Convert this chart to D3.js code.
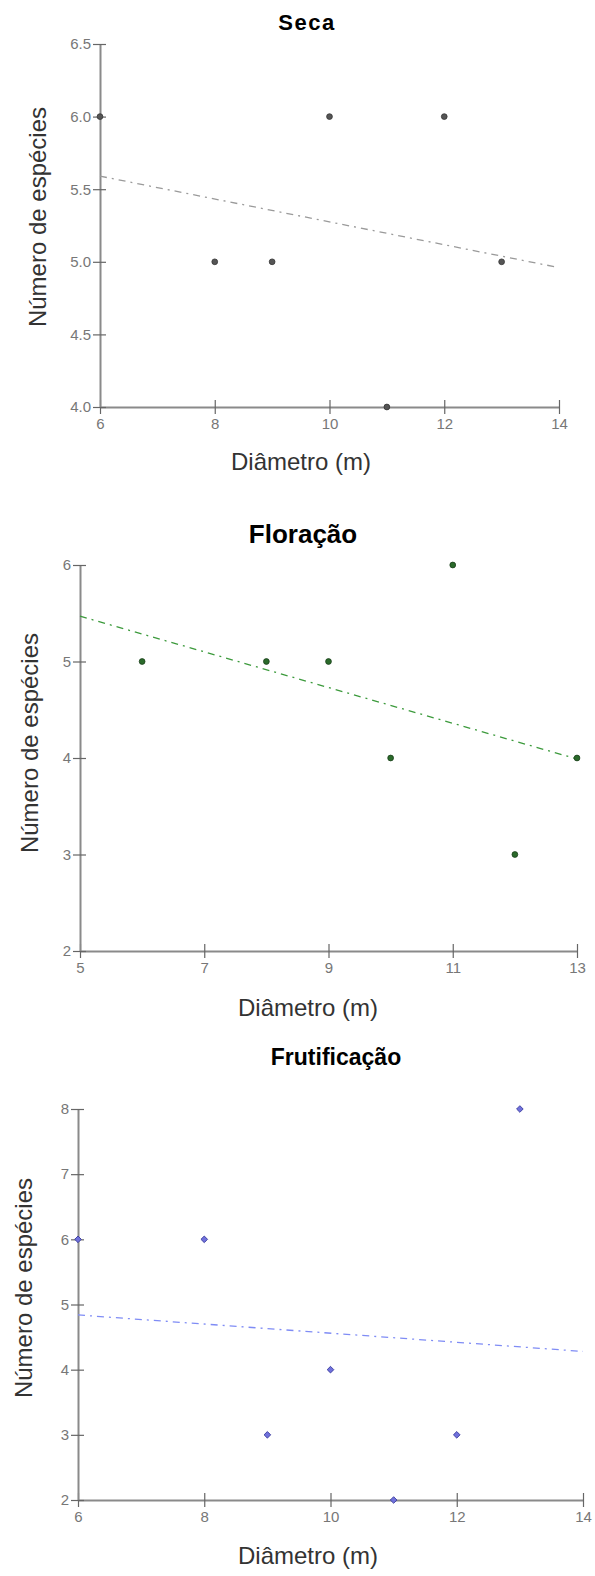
<!DOCTYPE html>
<html>
<head>
<meta charset="utf-8">
<script src="https://cdn.jsdelivr.net/npm/d3@7"></script>
<style>
  body { margin: 0; background: #fff; }
  svg { display: block; }
  .tick text { font-family: "Liberation Sans", Arial, sans-serif; fill: #777; }
</style>
</head>
<body>
<svg id="chart"></svg>
<script>
// data
const diametro = [6, 8, 9, 10, 11, 12, 13];
const secaEspecies = [6, 5, 5, 6, 4, 6, 5];
const floracaoEspecies = [5, 5, 5, 4, 6, 3, 4];
const frutificacaoEspecies = [6, 6, 3, 4, 2, 3, 8];

// trend line ends (value at left and right edge of x axis)
const secaTrend = [5.59, 4.96];
const floracaoTrend = [5.47, 3.99];
const frutificacaoTrend = [4.84, 4.28];

const secaXTicks = [6, 8, 10, 12, 14];
const secaYTicks = [4.0, 4.5, 5.0, 5.5, 6.0, 6.5];
const floracaoXTicks = [5, 7, 9, 11, 13];
const floracaoYTicks = [2, 3, 4, 5, 6];
const frutificacaoXTicks = [6, 8, 10, 12, 14];
const frutificacaoYTicks = [2, 3, 4, 5, 6, 7, 8];

const titles = ['Seca', 'Floração', 'Frutificação'];
const xLabel = 'Diâmetro (m)';
const yLabel = 'Número de espécies';

const width = 595, height = 1576;
const font = '"Liberation Sans", Arial, sans-serif';
const svg = d3.select('#chart').attr('width', width).attr('height', height);

const panels = [
  {
    title: titles[0], y: secaEspecies, trend: secaTrend,
    xTicks: secaXTicks, yTicks: secaYTicks, yFmt: d3.format('.1f'),
    xRange: [100, 559], yRange: [407, 44],
    titleX: 307, titleY: 22, titleSize: 22, titleSpacing: 1.5,
    xLabelX: 301, xLabelY: 462, yLabelX: 38, yLabelY: 217,
    line: '#9a9a9a', fill: '#555', stroke: '#333', marker: 'circle'
  },
  {
    title: titles[1], y: floracaoEspecies, trend: floracaoTrend,
    xTicks: floracaoXTicks, yTicks: floracaoYTicks, yFmt: d3.format('d'),
    xRange: [80, 577], yRange: [951, 565],
    titleX: 303, titleY: 534, titleSize: 26, titleSpacing: 0,
    xLabelX: 308, xLabelY: 1008, yLabelX: 30, yLabelY: 743,
    line: '#3c9a3c', fill: '#2a6a2a', stroke: '#1a3f1a', marker: 'circle'
  },
  {
    title: titles[2], y: frutificacaoEspecies, trend: frutificacaoTrend,
    xTicks: frutificacaoXTicks, yTicks: frutificacaoYTicks, yFmt: d3.format('d'),
    xRange: [78, 583], yRange: [1500, 1109],
    titleX: 336, titleY: 1057, titleSize: 23, titleSpacing: 0,
    xLabelX: 308, xLabelY: 1556, yLabelX: 24, yLabelY: 1288,
    line: '#7f8cf5', fill: '#7071dc', stroke: '#34359a', marker: 'diamond'
  }
];

panels.forEach(p => {
  const x = d3.scaleLinear()
    .domain(d3.extent(p.xTicks))
    .range(p.xRange);
  const y = d3.scaleLinear()
    .domain(d3.extent(p.yTicks))
    .range(p.yRange);

  const g = svg.append('g');

  // axes
  const xAxis = d3.axisBottom(x).tickValues(p.xTicks).tickSizeInner(7).tickSizeOuter(0).tickPadding(4);
  const yAxis = d3.axisLeft(y).tickValues(p.yTicks).tickFormat(p.yFmt).tickSizeInner(7).tickSizeOuter(0).tickPadding(2);

  const gx = g.append('g')
    .attr('transform', `translate(0, ${p.yRange[0]})`)
    .call(xAxis);
  const gy = g.append('g')
    .attr('transform', `translate(${p.xRange[0]}, 0)`)
    .call(yAxis);

  [gx, gy].forEach(a => {
    a.select('.domain').attr('stroke', '#8a8a8a').attr('stroke-width', 2);
    a.selectAll('.tick line').attr('stroke', '#666').attr('stroke-width', 1.2);
    a.selectAll('.tick text').attr('font-size', 15);
  });
  gx.selectAll('.tick line').attr('y1', -7);
  gy.selectAll('.tick line').attr('x1', 6);

  // trend line
  const ends = d3.extent(p.xTicks);
  g.append('path')
    .datum(ends.map((d, i) => [d, p.trend[i]]))
    .attr('d', d3.line().x(d => x(d[0])).y(d => y(d[1])))
    .attr('fill', 'none')
    .attr('stroke', p.line)
    .attr('stroke-width', 1.3)
    .attr('stroke-dasharray', '7,5,2,5');

  // points
  const sym = p.marker === 'diamond'
    ? d3.symbol().type(d3.symbolSquare).size(22)
    : d3.symbol().type(d3.symbolCircle).size(26);
  g.selectAll('.pt')
    .data(diametro.map((d, i) => [d, p.y[i]]))
    .enter()
    .append('path')
    .attr('class', 'pt')
    .attr('transform', d => `translate(${x(d[0])}, ${y(d[1])})` + (p.marker === 'diamond' ? ' rotate(45)' : ''))
    .attr('d', sym)
    .attr('fill', p.fill)
    .attr('stroke', p.stroke)
    .attr('stroke-width', 0.8);

  // titles and labels
  g.append('text')
    .attr('x', p.titleX)
    .attr('y', p.titleY)
    .attr('dy', '0.35em')
    .attr('text-anchor', 'middle')
    .attr('font-family', font)
    .attr('font-weight', 'bold')
    .attr('font-size', p.titleSize)
    .attr('letter-spacing', p.titleSpacing)
    .attr('fill', '#000')
    .text(p.title);

  g.append('text')
    .attr('x', p.xLabelX)
    .attr('y', p.xLabelY)
    .attr('dy', '0.35em')
    .attr('text-anchor', 'middle')
    .attr('font-family', font)
    .attr('font-size', 24)
    .attr('fill', '#333')
    .text(xLabel);

  g.append('text')
    .attr('transform', `translate(${p.yLabelX}, ${p.yLabelY}) rotate(-90)`)
    .attr('dy', '0.35em')
    .attr('text-anchor', 'middle')
    .attr('font-family', font)
    .attr('font-size', 24)
    .attr('fill', '#333')
    .text(yLabel);
});
</script>
</body>
</html>
